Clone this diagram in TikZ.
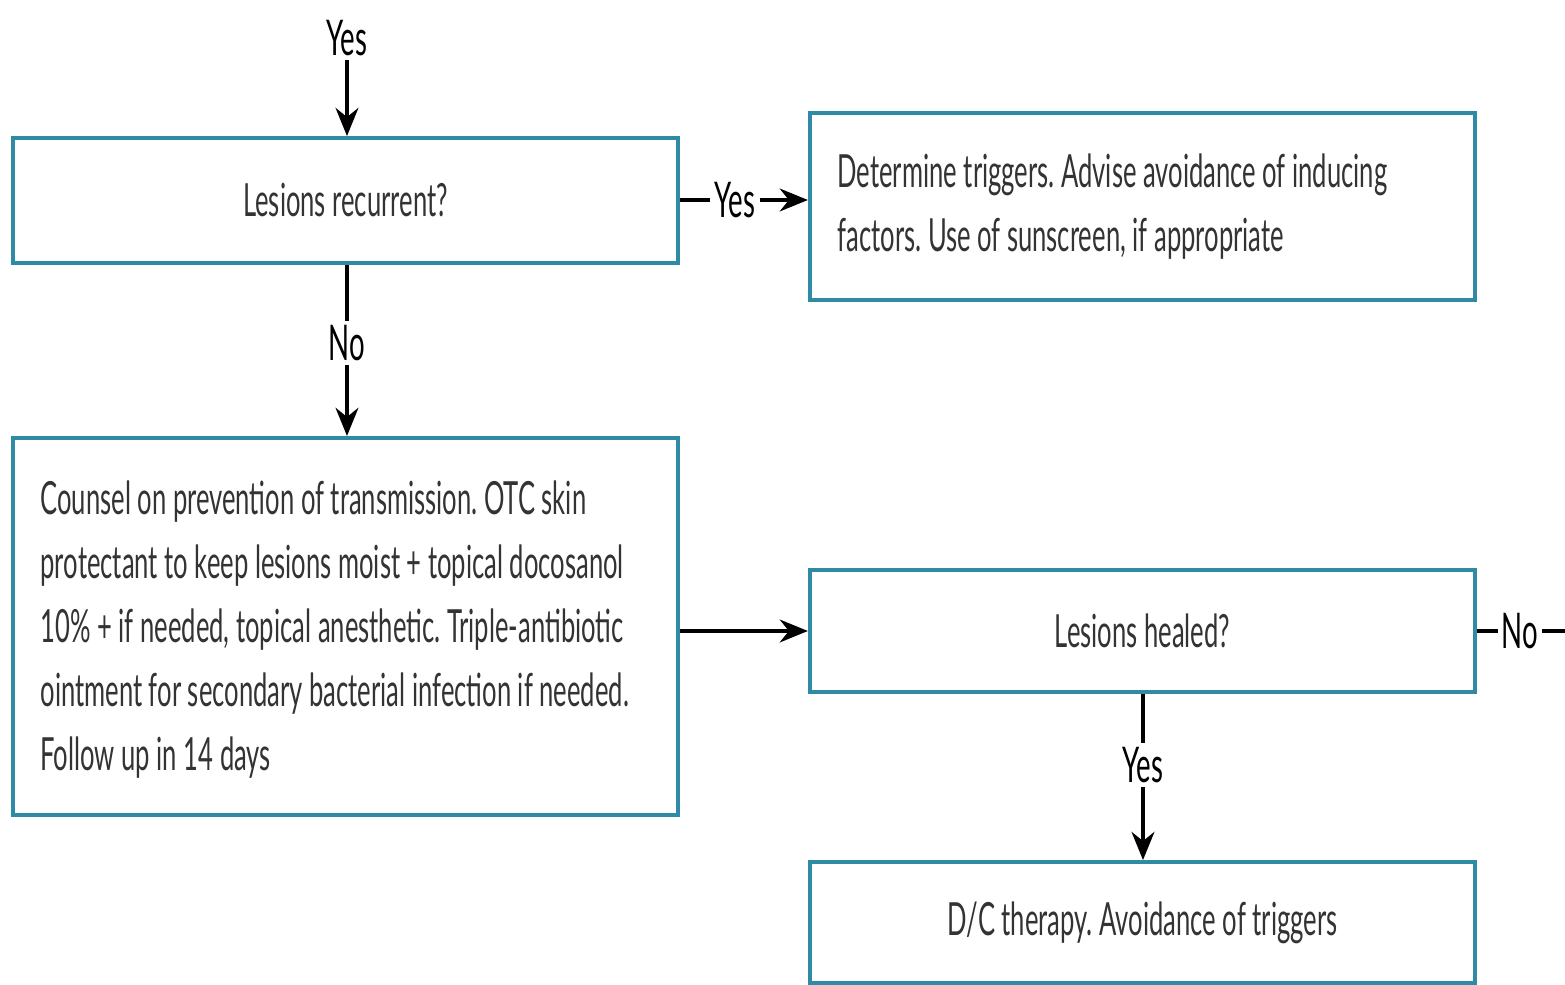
\documentclass[tikz,border=0pt]{standalone}
\usepackage{fontspec}
\setmainfont{Lato}[FakeStretch=0.56, WordSpace=1.0]
\usepackage{xcolor}
\usetikzlibrary{positioning, arrows.meta, calc}
\definecolor{boxteal}{HTML}{2F8AA6}
\definecolor{txtgray}{HTML}{333333}
\frenchspacing

\begin{document}
\begin{tikzpicture}[
  x=0.01cm, y=-0.01cm,
  box/.style={
    rectangle, draw=boxteal, line width=1.1pt, fill=white,
    minimum width=6.65cm, text=txtgray,
    font=\fontsize{13}{18.2}\selectfont, inner sep=0pt
  },
  content/.style={font=\fontsize{13}{18.2}\selectfont, text=txtgray,
    align=left, inner sep=0pt, anchor=west},
  lbl/.style={font=\fontsize{14}{16}\selectfont, text=black, inner sep=1pt},
  arr/.style={-{Stealth[length=8pt, width=6.5pt]}, line width=1pt},
  ln/.style={line width=1pt},
]
\useasboundingbox (0,0) rectangle (1565,985);

% Left column
\node[lbl] (yes0) at (347,38) {Yes};
\node[box, minimum height=1.25cm] (rec) at (345.5,200.5) {Lesions recurrent?};
\node[lbl] (no1) at (347,343) {No};
\node[box, minimum height=3.77cm] (counsel) at (345.5,626.5) {};
\node[content] (counseltxt) at ([xshift=0.29cm, yshift=-0.03cm]counsel.west) {%
  Counsel on prevention of transmission. OTC skin\\
  protectant to keep lesions moist + topical docosanol\\
  10\% + if needed, topical anesthetic. Triple-antibiotic\\
  ointment for secondary bacterial infection if needed.\\
  Follow up in 14 days};

% Right column
\node[box, minimum height=1.87cm] (trig) at (1142.5,206.5) {};
\node[content] (trigtxt) at ([xshift=0.29cm]trig.west) {%
  Determine triggers. Advise avoidance of inducing\\
  factors. Use of sunscreen, if appropriate};
\node[lbl] (yes1) at (735,200) {Yes};
\node[box, minimum height=1.22cm] (heal) at (1142.5,631) {Lesions healed?};
\node[lbl] (no2) at (1520,631) {No};
\coordinate (out) at (1565,631);
\node[lbl] (yes2) at (1143,765) {Yes};
\node[box, minimum height=1.21cm] (dc) at (1142.5,922.5) {D/C therapy. Avoidance of triggers};

% Arrows
\draw[arr] (yes0) -- (yes0 |- rec.north);
\draw[ln] (rec.east |- yes1) -- (yes1.west);
\draw[arr] (yes1.east) -- (yes1 -| trig.west);
\draw[ln] (no1 |- rec.south) -- (no1.north);
\draw[arr] (no1.south) -- (no1 |- counsel.north);
\draw[arr] (counsel.east |- heal.west) -- (heal.west);
\draw[ln] (heal.east) -- (no2.west);
\draw[ln] (no2.east) -- (out);
\draw[ln] (yes2 |- heal.south) -- (yes2.north);
\draw[arr] (yes2.south) -- (yes2 |- dc.north);

\end{tikzpicture}
\end{document}
